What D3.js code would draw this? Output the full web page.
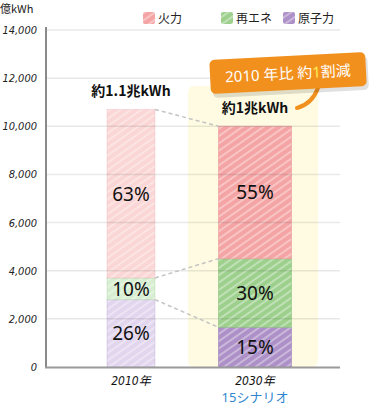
<!DOCTYPE html>
<html><head><meta charset="utf-8">
<script src="https://cdn.jsdelivr.net/npm/d3@7"></script>
<style>
html,body{margin:0;padding:0;background:#fff;}
svg{display:block;}
</style></head>
<body>
<svg id="c" width="369" height="407"></svg>
<script>
// ---- data ----
const years = ["2010", "2030"];
const yearLabels = ["2010年", "2030年"];
const seriesNames = ["原子力", "再エネ", "火力"];
const legendNames = ["火力", "再エネ", "原子力"];
const nuclear = [2800, 1650];
const renewable = [900, 2850];
const thermal = [7000, 5500];
const pctNuclear = ["26%", "15%"];
const pctRenewable = ["10%", "30%"];
const pctThermal = ["63%", "55%"];
const totalLabels = ["約1.1兆kWh", "約1兆kWh"];
const yTicks = [0, 2000, 4000, 6000, 8000, 10000, 12000, 14000];
const unitLabel = "億kWh";
const scenarioLabel = "15シナリオ";
const calloutText = ["2010 年比 約", "1", "割減"];

const svg = d3.select("#c");
const defs = svg.append("defs");

const colors = {
  "火力": ["#fad6d6", "#f4a4a4"],
  "再エネ": ["#d8eed2", "#9dd08d"],
  "原子力": ["#e2d6ee", "#ad90c7"]
};
const strokeCol = {"火力": "#e89a9a", "再エネ": "#8cc27c", "原子力": "#9d80b8"};

function hatch(id, col, op) {
  const p = defs.append("pattern").attr("id", id).attr("patternUnits", "userSpaceOnUse")
    .attr("width", 6).attr("height", 6).attr("patternTransform", "rotate(-35)");
  p.append("rect").attr("width", 6).attr("height", 6).attr("fill", col);
  p.append("line").attr("x1", 0).attr("y1", 3).attr("x2", 6).attr("y2", 3)
    .attr("stroke", "#fff").attr("stroke-width", 1.2).attr("stroke-opacity", op);
}
Object.keys(colors).forEach((k, i) => {
  hatch("h" + i + "a", colors[k][0], 0.55);
  hatch("h" + i + "b", colors[k][1], 0.6);
});
const keyIdx = {"火力": 0, "再エネ": 1, "原子力": 2};

const y = d3.scaleLinear().domain([0, 14000]).range([367, 30]);
const x = d3.scalePoint().domain(years).range([131, 255]);
const barW = {"2010": 48, "2030": 73};

// yellow highlight behind 2030
svg.append("rect").attr("x", x("2030") - 67).attr("y", 86).attr("width", 130)
  .attr("height", y(0) - 86).attr("rx", 6).attr("fill", "#fefbe2");

const rows = years.map((yr, i) => ({year: yr, "原子力": nuclear[i], "再エネ": renewable[i], "火力": thermal[i]}));
const stack = d3.stack().keys(seriesNames)(rows);

stack.forEach(layer => {
  const k = layer.key;
  layer.forEach((d, i) => {
    const yr = years[i];
    const w = barW[yr];
    svg.append("rect")
      .attr("x", x(yr) - w / 2).attr("width", w)
      .attr("y", y(d[1])).attr("height", y(d[0]) - y(d[1]))
      .attr("fill", `url(#h${keyIdx[k]}${i === 0 ? "a" : "b"})`)
      .attr("stroke", strokeCol[k]).attr("stroke-opacity", i === 0 ? 0.25 : 0.6).attr("stroke-width", 1);
  });
});

// gridlines
const grid = svg.append("g");
yTicks.filter(t => t > 0).forEach(t => {
  grid.append("line").attr("x1", 46).attr("x2", 340).attr("y1", y(t)).attr("y2", y(t))
    .attr("stroke", "#000").attr("stroke-opacity", 0.09).attr("stroke-width", 1.5);
});

// dashed connectors
const tops = stack.map(l => l.map(d => d[1]));
tops.forEach(t => {
  svg.append("line")
    .attr("x1", x("2010") + barW["2010"] / 2).attr("y1", y(t[0]))
    .attr("x2", x("2030") - barW["2030"] / 2).attr("y2", y(t[1]))
    .attr("stroke", "#c4c4c4").attr("stroke-width", 1.5).attr("stroke-dasharray", "4,3");
});

// axes
const yAxis = d3.axisLeft(y).tickValues(yTicks).tickSize(0).tickPadding(9)
  .tickFormat(d3.format(","));
const gy = svg.append("g").attr("transform", "translate(46,0)").call(yAxis);
gy.select(".domain").remove();
gy.selectAll("text").attr("font-family", "'DejaVu Sans Condensed', 'DejaVu Sans'")
  .attr("font-style", "italic").attr("font-size", 11).attr("fill", "#222");
svg.append("line").attr("x1", 46).attr("x2", 46).attr("y1", 27).attr("y2", 368)
  .attr("stroke", "#8a8a8a").attr("stroke-width", 2);
svg.append("line").attr("x1", 45).attr("x2", 340).attr("y1", 367.5).attr("y2", 367.5)
  .attr("stroke", "#9a9a9a").attr("stroke-width", 2);

svg.append("text").attr("x", 0).attr("y", 13).text(unitLabel)
  .attr("font-family", "'Noto Sans CJK JP'").attr("font-size", 11).attr("fill", "#222");

// percentage labels
const pctArr = {"原子力": pctNuclear, "再エネ": pctRenewable, "火力": pctThermal};
stack.forEach(layer => {
  layer.forEach((d, i) => {
    svg.append("text").attr("x", x(years[i])).attr("y", (y(d[0]) + y(d[1])) / 2 + 7)
      .attr("text-anchor", "middle").attr("font-family", "'Noto Sans', sans-serif")
      .attr("font-size", 19).attr("fill", "#111").text(pctArr[layer.key][i]);
  });
});

// total labels
const totals = rows.map(r => r["原子力"] + r["再エネ"] + r["火力"]);
totalLabels.forEach((t, i) => {
  svg.append("text").attr("x", x(years[i])).attr("y", y(totals[i]) - 13)
    .attr("text-anchor", "middle").attr("font-family", "'Noto Sans CJK JP'")
    .attr("font-weight", 700).attr("font-size", 14).attr("fill", "#111").text(t);
});

// x labels
yearLabels.forEach((t, i) => {
  svg.append("text").attr("x", x(years[i])).attr("y", 385)
    .attr("text-anchor", "middle").attr("font-family", "'DejaVu Sans Condensed', 'Noto Sans CJK JP'")
    .attr("font-style", "italic").attr("font-size", 12).attr("fill", "#111").text(t);
});
svg.append("text").attr("x", x("2030")).attr("y", 402).attr("text-anchor", "middle")
  .attr("font-family", "'Noto Sans', 'Noto Sans CJK JP'").attr("font-size", 13).attr("fill", "#2f86cf")
  .text(scenarioLabel);

// legend
const legX = [143, 221, 283];
legendNames.forEach((n, i) => {
  svg.append("rect").attr("x", legX[i]).attr("y", 12).attr("width", 12).attr("height", 12)
    .attr("rx", 2).attr("fill", `url(#h${keyIdx[n]}b)`);
  svg.append("text").attr("x", legX[i] + 15).attr("y", 23).text(n)
    .attr("font-family", "'Noto Sans CJK JP'").attr("font-size", 12).attr("fill", "#222");
});

// callout
svg.append("path").attr("d", "M318,88 Q312,104 297,108")
  .attr("fill", "none").attr("stroke", "#f2901e").attr("stroke-width", 4).attr("stroke-linecap", "round");
const co = svg.append("g").attr("transform", "translate(288,73) rotate(-3)");
co.append("rect").attr("x", -77).attr("y", -15).attr("width", 156).attr("height", 34).attr("rx", 5)
  .attr("fill", "#000").attr("opacity", 0.12).attr("transform", "translate(1,2)");
co.append("rect").attr("x", -78).attr("y", -17).attr("width", 156).attr("height", 34).attr("rx", 5)
  .attr("fill", "#f2901e");
const ct = co.append("text").attr("x", 0).attr("y", 6).attr("text-anchor", "middle")
  .attr("font-family", "'Noto Sans', 'Noto Sans CJK JP'").attr("font-size", 15).attr("fill", "#fff");
calloutText.forEach((s, i) => {
  ct.append("tspan").text(s).attr("fill", i === 1 ? "#ffee55" : "#fff");
});
</script>
</body></html>
